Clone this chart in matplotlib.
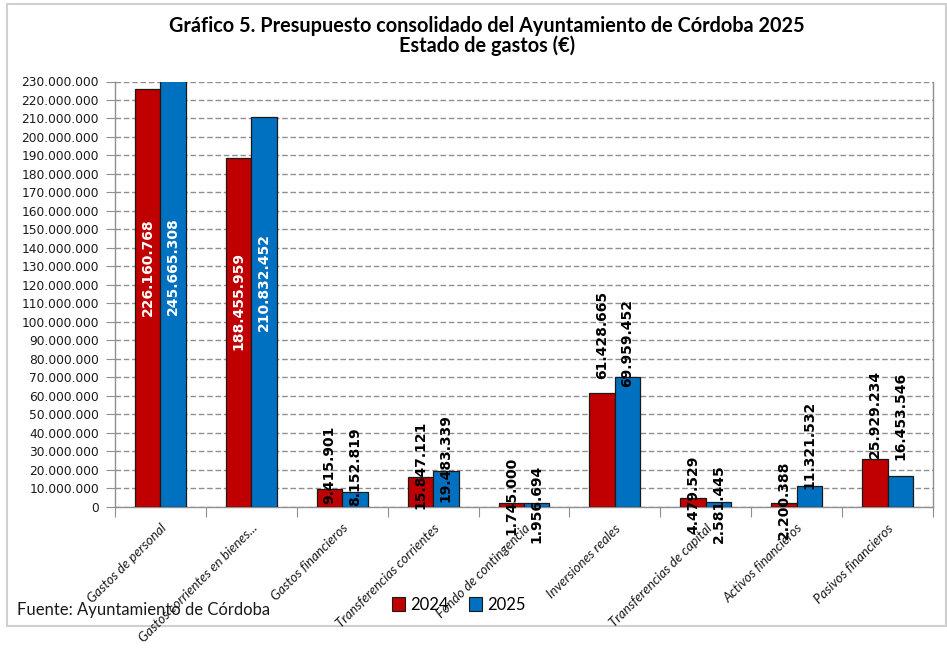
import matplotlib
matplotlib.use("Agg")
import matplotlib.pyplot as plt
import matplotlib.patches as mpatches
from matplotlib.ticker import FuncFormatter, MultipleLocator, FixedLocator
import numpy as np

categories = ["Gastos de personal", "Gastos corrientes en bienes...", "Gastos financieros",
              "Transferencias corrientes", "Fondo de contingencia", "Inversiones reales",
              "Transferencias de capital", "Activos financieros", "Pasivos financieros"]
values_2024 = [226160768, 188455959, 9415901, 15847121, 1745000, 61428665, 4479529, 2200388, 25929234]
values_2025 = [245665308, 210832452, 8152819, 19483339, 1956694, 69959452, 2581445, 11321532, 16453546]
series_names = ["2024", "2025"]
# vertical centre of each rotated data label (as placed in the original chart)
label_mid_2024 = [129.4e6, 111.0e6, 22.8e6, 22.6e6, 5.8e6, 92.9e6, 6.6e6, 3.6e6, 50.2e6]
label_mid_2025 = [130.3e6, 121.3e6, 21.5e6, 26.1e6, 1.7e6, 88.3e6, 1.7e6, 33.4e6, 49.1e6]

title = "Gráfico 5. Presupuesto consolidado del Ayuntamiento de Córdoba 2025\nEstado de gastos (€)"
source = "Fuente: Ayuntamiento de Córdoba"

RED = "#C00000"
BLUE = "#0070C0"

W, H = 947, 648
fig = plt.figure(figsize=(W / 100, H / 100), dpi=100)
ax = fig.add_axes([115 / W, 1 - 506.7 / H, (933 - 115) / W, (506.7 - 81.5) / H])

x = np.arange(len(categories))
bw = 0.28
ax.bar(x - bw / 2, values_2024, bw, color=RED, edgecolor="#1a1a1a", linewidth=0.9, zorder=3)
ax.bar(x + bw / 2, values_2025, bw, color=BLUE, edgecolor="#1a1a1a", linewidth=0.9, zorder=3)

ax.set_xlim(-0.5, len(categories) - 0.5)
ax.set_ylim(0, 230e6)
ax.yaxis.set_major_locator(MultipleLocator(10e6))
ax.yaxis.set_major_formatter(FuncFormatter(lambda v, p: f"{int(round(v)):,}".replace(",", ".")))
ax.grid(axis="y", color="#8f8f8f", linestyle=(0, (4, 2)), linewidth=1.0, zorder=0)
ax.tick_params(axis="y", direction="out", length=6.5, width=0.8, color="#8f8f8f",
               labelsize=8.8, pad=5, labelcolor="#1a1a1a")

for s in ["left", "bottom", "right"]:
    ax.spines[s].set_color("#8f8f8f")
    ax.spines[s].set_linewidth(1.0)
ax.spines["top"].set_visible(False)

# category boundary ticks
ax.xaxis.set_minor_locator(FixedLocator(np.arange(-0.5, len(categories) + 0.5, 1.0)))
ax.tick_params(axis="x", which="minor", direction="out", length=7, width=0.8, color="#8f8f8f")
ax.set_xticks(x)
ax.set_xticklabels(categories, rotation=45, ha="right", rotation_mode="anchor",
                   fontstyle="italic", fontsize=9.6, family="Lato", color="#1a1a1a")
ax.tick_params(axis="x", which="major", length=0, pad=11)

# data labels
for i in range(len(categories)):
    for off, vals, mids in ((-bw / 2, values_2024, label_mid_2024), (bw / 2, values_2025, label_mid_2025)):
        v = vals[i]
        txt = f"{v:,}".replace(",", ".")
        color = "white" if v > 100e6 else "black"
        ax.text(x[i] + off, mids[i], txt, rotation=90, ha="center", va="center",
                color=color, fontsize=10, fontweight="bold", zorder=5, clip_on=False)

fig.text(487 / W, 1 - 36 / H, title, ha="center", va="center", fontsize=14.3,
         fontweight="bold", family="Lato", linespacing=1.0)

fig.text(17 / W, 1 - 610 / H, source, ha="left", va="center", fontsize=12, family="Lato",
         color="#1a1a1a")

handles = [mpatches.Patch(facecolor=RED, edgecolor="#1a1a1a", linewidth=0.8),
           mpatches.Patch(facecolor=BLUE, edgecolor="#1a1a1a", linewidth=0.8)]
fig.legend(handles, series_names, loc="center", bbox_to_anchor=(459 / W, 1 - 605 / H),
           ncol=2, frameon=False, prop={"family": "Lato", "size": 12},
           handlelength=0.75, handleheight=0.9, handletextpad=0.35, columnspacing=1.2)

# chart border
border = mpatches.Rectangle((7 / W, 1 - 626 / H), (946 - 7) / W, (626 - 4) / H,
                            transform=fig.transFigure, fill=False, edgecolor="#d0d0d0",
                            linewidth=1.5, zorder=0)
fig.add_artist(border)

fig.savefig("out.png", dpi=100)
